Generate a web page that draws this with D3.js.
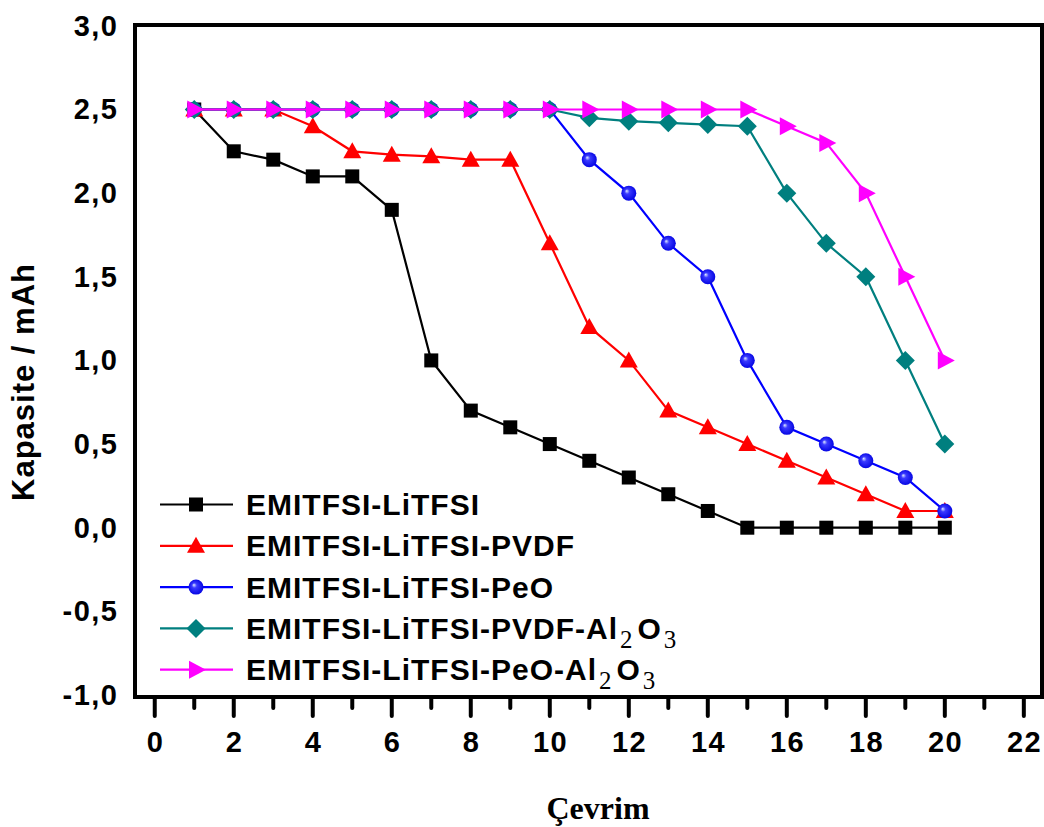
<!DOCTYPE html>
<html><head><meta charset="utf-8">
<script src="https://cdn.jsdelivr.net/npm/d3@7"></script>
<style>body{margin:0;background:#fff}svg{display:block}</style>
</head><body>
<svg id="c" width="1044" height="827"></svg>
<script>
const cycles = [1,2,3,4,5,6,7,8,9,10,11,12,13,14,15,16,17,18,19,20];
const sLiTFSI = [2.5,2.25,2.2,2.1,2.1,1.9,1.0,0.7,0.6,0.5,0.4,0.3,0.2,0.1,0,0,0,0,0,0];
const sPVDF = [2.5,2.5,2.5,2.4,2.25,2.23,2.22,2.2,2.2,1.7,1.2,1.0,0.7,0.6,0.5,0.4,0.3,0.2,0.1,0.1];
const sPeO = [2.5,2.5,2.5,2.5,2.5,2.5,2.5,2.5,2.5,2.5,2.2,2.0,1.7,1.5,1.0,0.6,0.5,0.4,0.3,0.1];
const sPVDFAl = [2.5,2.5,2.5,2.5,2.5,2.5,2.5,2.5,2.5,2.5,2.45,2.43,2.42,2.41,2.4,2.0,1.7,1.5,1.0,0.5];
const sPeOAl = [2.5,2.5,2.5,2.5,2.5,2.5,2.5,2.5,2.5,2.5,2.5,2.5,2.5,2.5,2.5,2.4,2.3,2.0,1.5,1.0];
const seriesNames = ["EMITFSI-LiTFSI","EMITFSI-LiTFSI-PVDF","EMITFSI-LiTFSI-PeO","EMITFSI-LiTFSI-PVDF-Al2O3","EMITFSI-LiTFSI-PeO-Al2O3"];
const seriesColors = ["#000000","#ff0000","#0000ff","#007f7f","#ff00ff"];
const seriesMarkers = ["square","triangle","circle","diamond","right"];
const xTicks = [0,2,4,6,8,10,12,14,16,18,20,22];
const xMinor = [1,3,5,7,9,11,13,15,17,19,21];
const yTicks = [-1.0,-0.5,0.0,0.5,1.0,1.5,2.0,2.5,3.0];
const allSeries = [sLiTFSI,sPVDF,sPeO,sPVDFAl,sPeOAl];

const svg = d3.select("#c");
const L=135, R=1042, T=25, B=697;
const x = d3.scaleLinear().domain([-0.5,22.46]).range([L,R]);
const y = d3.scaleLinear().domain([-1.012,3.005]).range([B,T]);
const SANS = "Liberation Sans, Arial, sans-serif";
const SERIF = "Liberation Serif, Times New Roman, serif";

const defs = svg.append("defs");
const rg = defs.append("radialGradient").attr("id","ball").attr("cx","50%").attr("cy","50%").attr("r","55%").attr("fx","35%").attr("fy","35%");
rg.append("stop").attr("offset","0%").attr("stop-color","#e0ecff");
rg.append("stop").attr("offset","30%").attr("stop-color","#3a3aff");
rg.append("stop").attr("offset","100%").attr("stop-color","#0000e0");

function drawMarker(g, type, color, cx, cy){
  if(type==="square"){
    g.append("rect").attr("x",cx-7).attr("y",cy-7).attr("width",14).attr("height",14).attr("fill",color);
  } else if(type==="triangle"){
    g.append("path").attr("d",`M${cx},${cy-9}L${cx+9},${cy+7}L${cx-9},${cy+7}Z`).attr("fill",color);
  } else if(type==="circle"){
    g.append("circle").attr("cx",cx).attr("cy",cy).attr("r",7.5).attr("fill","url(#ball)");
  } else if(type==="diamond"){
    g.append("path").attr("d",`M${cx},${cy-9.5}L${cx+9.5},${cy}L${cx},${cy+9.5}L${cx-9.5},${cy}Z`).attr("fill",color);
  } else if(type==="right"){
    g.append("path").attr("d",`M${cx-7},${cy-9}L${cx+10},${cy}L${cx-7},${cy+9}Z`).attr("fill",color);
  }
}

const line = d3.line().x((d,i)=>x(cycles[i])).y(d=>y(d));
allSeries.forEach((s,k)=>{
  const g = svg.append("g");
  g.append("path").datum(s).attr("d",line).attr("fill","none").attr("stroke",seriesColors[k]).attr("stroke-width",2.2);
  s.forEach((v,i)=>drawMarker(g, seriesMarkers[k], seriesColors[k], x(cycles[i]), y(v)));
});

svg.append("rect").attr("x",L).attr("y",T).attr("width",R-L).attr("height",B-T).attr("fill","none").attr("stroke","#000").attr("stroke-width",4);

const xa = svg.append("g");
xTicks.forEach(t=>{
  xa.append("line").attr("x1",x(t)).attr("x2",x(t)).attr("y1",B).attr("y2",B+19).attr("stroke","#000").attr("stroke-width",4).attr("stroke-linecap","round");
  xa.append("text").attr("x",x(t)+0.75).attr("y",752).attr("text-anchor","middle").attr("letter-spacing",1.5)
    .attr("font-family",SANS).attr("font-weight","bold").attr("font-size",29).text(t);
});
xMinor.forEach(t=>{
  xa.append("line").attr("x1",x(t)).attr("x2",x(t)).attr("y1",B).attr("y2",B+11).attr("stroke","#000").attr("stroke-width",4).attr("stroke-linecap","round");
});
yTicks.forEach(t=>{
  svg.append("text").attr("x",118.5).attr("y",y(t)+10).attr("text-anchor","end").attr("letter-spacing",1.5)
    .attr("font-family",SANS).attr("font-weight","bold").attr("font-size",29)
    .text(d3.format(".1f")(t).replace(".",",").replace("−","-"));
});

svg.append("text").attr("transform","translate(34,382) rotate(-90)").attr("text-anchor","middle").attr("letter-spacing",1)
  .attr("font-family",SANS).attr("font-weight","bold").attr("font-size",31).text("Kapasite / mAh");
svg.append("text").attr("x",598).attr("y",819).attr("text-anchor","middle")
  .attr("font-family",SERIF).attr("font-weight","bold").attr("font-size",32).text("Çevrim");

const lg = svg.append("g");
seriesNames.forEach((n,k)=>{
  const cy = 504.5 + k*41.3;
  lg.append("line").attr("x1",160).attr("x2",233).attr("y1",cy).attr("y2",cy).attr("stroke",seriesColors[k]).attr("stroke-width",2.2);
  drawMarker(lg, seriesMarkers[k], seriesColors[k], 196, cy);
  const t = lg.append("text").attr("x",246).attr("y",cy+10.5).attr("letter-spacing",1)
    .attr("font-family",SANS).attr("font-weight","bold").attr("font-size",30);
  if(n.endsWith("Al2O3")){
    t.append("tspan").text(n.slice(0,-5)+"Al");
    t.append("tspan").attr("font-family",SERIF).attr("font-weight","normal").attr("font-size",25).attr("dy",9).attr("dx",2).text("2");
    t.append("tspan").attr("dy",-9).attr("dx",4).text("O");
    t.append("tspan").attr("font-family",SERIF).attr("font-weight","normal").attr("font-size",25).attr("dy",9).attr("dx",2).text("3");
  } else t.text(n);
});
</script>
</body></html>
